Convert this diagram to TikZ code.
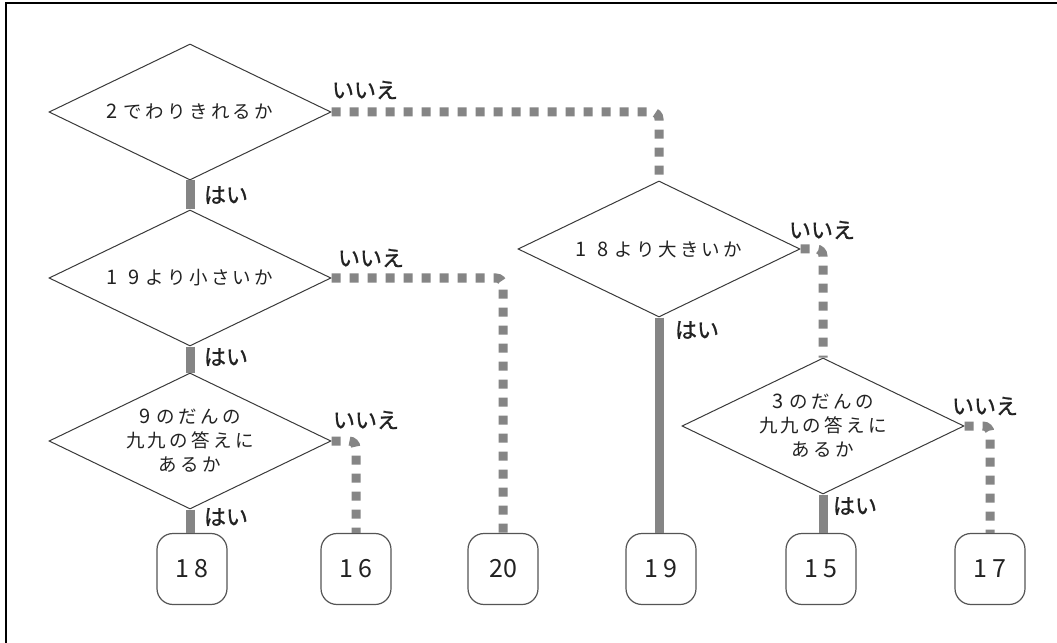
\documentclass[tikz,border=0pt]{standalone}
\usepackage{fontspec}
\usetikzlibrary{shapes.geometric}
\newfontfamily\jp{Noto Sans CJK JP}
\newfontfamily\jpsp[LetterSpace=18]{Noto Sans CJK JP}
\newfontfamily\jpdig[LetterSpace=55]{Noto Sans CJK JP}
\newfontfamily\jpnum[LetterSpace=22]{Noto Sans CJK JP}
\newfontfamily\jplab[FakeBold=1.2]{Noto Sans CJK JP}
\newcommand\mydigs[1]{{\jpdig\fontsize{20bp}{24bp}\selectfont #1}\kern6bp}
\definecolor{conn}{HTML}{858585}
\definecolor{edgec}{HTML}{3A3A3A}
\definecolor{boxc}{HTML}{555555}
\definecolor{txt}{HTML}{222222}
\begin{document}
\begin{tikzpicture}[x=1bp,y=-1bp,
  dec/.style={shape=diamond, draw=edgec, line width=1bp, fill=white,
    shape aspect=2.07, minimum width=282bp, minimum height=136bp,
    inner sep=0pt, align=center, text=txt,
    font=\jpsp\fontsize{18.5bp}{24bp}\selectfont},
  endbox/.style={rectangle, draw=boxc, line width=1.2bp, rounded corners=16bp,
    minimum width=70bp, minimum height=71bp, inner sep=0pt, text=txt,
    font=\jpnum\fontsize{25bp}{25bp}\selectfont},
  yesline/.style={draw=conn, line width=9bp},
  noline/.style={draw=conn, line width=9bp, dash pattern=on 9bp off 9bp, rounded corners=7bp},
  lab/.style={inner sep=0pt, text=txt, font=\jplab\fontsize{22bp}{22bp}\selectfont}
]
\useasboundingbox (0,0) rectangle (1057,643);
\fill[white] (0,0) rectangle (1057,643);
% frame (top and left)
\draw[line width=2.5bp] (1057,3) -- (6,3) -- (6,643);

\coordinate (p1) at (190,112);
\coordinate (p2) at (190,278);
\coordinate (p3) at (190,441);
\coordinate (p4) at (659,249);
\coordinate (p5) at (823,426);

% decision nodes
\node[dec] (d1) at (p1) {\mydigs{2}でわりきれるか};
\node[dec] (d2) at (p2) {\mydigs{19}より小さいか};
\node[dec] (d3) at (p3) {\mydigs{9}のだんの\\九九の答えに\\あるか};
\node[dec] (d4) at (p4) {\mydigs{18}より大きいか};
\node[dec] (d5) at (p5) {\mydigs{3}のだんの\\九九の答えに\\あるか};

% result boxes
\node[endbox] (b18) at (192,569) {18};
\node[endbox] (b16) at (356,569) {16};
\node[endbox] (b20) at (503,569) {\jp\fontsize{25bp}{25bp}\selectfont 20};
\node[endbox] (b19) at (661,569) {19};
\node[endbox] (b15) at (821,569) {15};
\node[endbox] (b17) at (990,569) {17};

% yes connectors
\draw[yesline] (d1.south) -- (d2.north);
\draw[yesline] (d2.south) -- (d3.north);
\draw[yesline] (d3.south) -- (d3.south |- b18.north);
\draw[yesline] (d4.south) -- (d4.south |- b19.north);
\draw[yesline] (d5.south) -- (d5.south |- b15.north);

% no connectors
\draw[noline] (d1.east) -| (d4.north);
\draw[noline] (d2.east) -| (b20.north);
\draw[noline] (d3.east) -| (b16.north);
\draw[noline] (d4.east) -| (d5.north);
\draw[noline] (d5.east) -| (b17.north);

% labels
\node[lab] (y1) at (226,195) {はい};
\node[lab] (y2) at (226,357) {はい};
\node[lab] (y3) at (226,517) {はい};
\node[lab] (y4) at (697,330) {はい};
\node[lab] (y5) at (855,506) {はい};
\node[lab] (n1) at (365,90) {いいえ};
\node[lab] (n2) at (371,258) {いいえ};
\node[lab] (n3) at (366,420) {いいえ};
\node[lab] (n4) at (822,230) {いいえ};
\node[lab] (n5) at (985,406) {いいえ};
\end{tikzpicture}
\end{document}
